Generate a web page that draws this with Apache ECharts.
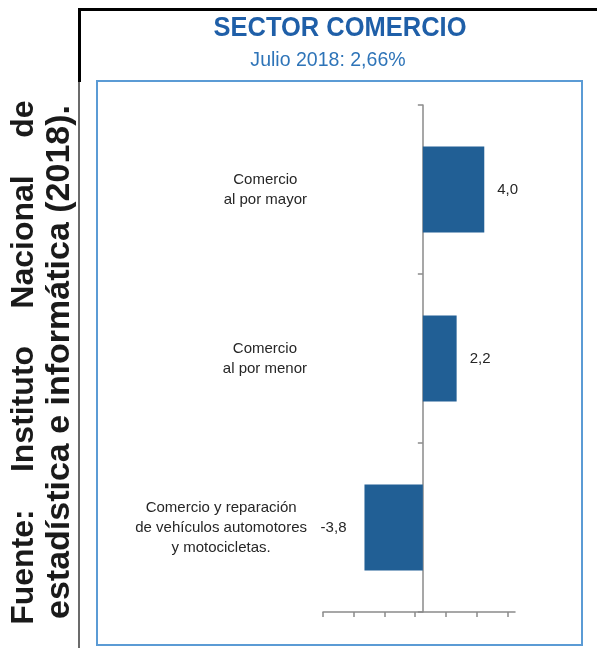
<!DOCTYPE html>
<html>
<head>
<meta charset="utf-8">
<script src="https://cdn.jsdelivr.net/npm/echarts@6/dist/echarts.min.js"></script>
<style>
  html, body { margin: 0; padding: 0; background: #ffffff; }
  #chart { width: 597px; height: 648px; }
</style>
</head>
<body>
<div id="chart"></div>
<script>
// Sector comercio: variación por subsector, julio 2018
const categories = [
  'Comercio\nal por mayor',
  'Comercio\nal por menor',
  'Comercio y reparación\nde vehículos automotores\ny motocicletas.'
];
const values = [4.0, 2.2, -3.8];
const xTickValues = [-6.5, -4.5, -2.5, -0.5, 1.5, 3.5, 5.5];
const titleText = 'SECTOR COMERCIO';
const subtitleText = 'Julio 2018: 2,66%';
const sourceLine1 = ['Fuente:', 'Instituto', 'Nacional', 'de'];
const sourceLine2 = 'estadística e informática (2018).';

const SANS = '"Liberation Sans", Arial, Helvetica, sans-serif';
const BAR = '#215f95';
const TEXT = '#262626';

const fmt = v => v.toFixed(1).replace('.', ',');

const barData = values.map(v => ({
  value: v,
  label: {
    position: v >= 0 ? 'right' : 'left',
    distance: v >= 0 ? 13 : 18
  }
}));

// centres of the words of the first (justified) source line
const line1Centers = [567, 409, 242, 119];

const graphics = [
  // outer black frame (top and left)
  { type: 'rect', shape: { x: 78, y: 8, width: 519, height: 3 }, style: { fill: '#000' }, silent: true },
  { type: 'rect', shape: { x: 78, y: 8, width: 3, height: 74 }, style: { fill: '#000' }, silent: true },
  { type: 'rect', shape: { x: 78, y: 82, width: 2, height: 566 }, style: { fill: '#6b6b6b' }, silent: true },
  // inner plot frame
  { type: 'rect', shape: { x: 97, y: 81, width: 485, height: 564 },
    style: { fill: 'none', stroke: '#5b9bd5', lineWidth: 2 }, silent: true },
  // headings (condensed)
  { type: 'text', x: 340, y: 28, scaleX: 0.91, style: { text: titleText, fontFamily: SANS, fontWeight: 'bold',
      fontSize: 28, fill: '#1f5fa8', align: 'center', verticalAlign: 'middle' } },
  { type: 'text', x: 328, y: 60, scaleX: 0.93, style: { text: subtitleText, fontFamily: SANS,
      fontSize: 21, fill: '#2e74b8', align: 'center', verticalAlign: 'middle' } },
  // vertical source note
  { type: 'text', x: 60, y: 362, rotation: Math.PI / 2,
    style: { text: sourceLine2, fontFamily: SANS, fontWeight: 'bold', fontSize: 34, fill: '#1a1a1a',
      align: 'center', verticalAlign: 'middle' } }
];
sourceLine1.forEach((w, i) => {
  graphics.push({ type: 'text', x: 24, y: line1Centers[i], rotation: Math.PI / 2,
    style: { text: w, fontFamily: SANS, fontWeight: 'bold', fontSize: 32, fill: '#1a1a1a',
      align: 'center', verticalAlign: 'middle' } });
});

const chart = echarts.init(document.getElementById('chart'), null, { renderer: 'canvas' });
chart.setOption({
  animation: false,
  backgroundColor: '#ffffff',
  grid: { left: 323, right: 82, top: 105, bottom: 36, containLabel: false },
  xAxis: {
    type: 'value',
    min: -6.5,
    max: 6,
    splitLine: { show: false },
    axisLine: { show: true, lineStyle: { color: '#8a8a8a', width: 1.5 } },
    axisTick: { show: true, length: 5, customValues: xTickValues, lineStyle: { color: '#8a8a8a', width: 1.5 } },
    axisLabel: { show: false }
  },
  yAxis: {
    type: 'category',
    inverse: true,
    data: categories,
    axisLine: { show: true, onZero: true, lineStyle: { color: '#8a8a8a', width: 1.5 } },
    axisTick: { show: true, length: 5, alignWithLabel: false, lineStyle: { color: '#8a8a8a', width: 1.5 } },
    axisLabel: {
      margin: 16,
      formatter: v => v.split('\n').map(l => '{c|' + l + '}').join('\n'),
      rich: { c: { align: 'center', fontFamily: SANS, fontSize: 15, lineHeight: 20, color: TEXT } }
    }
  },
  series: [{
    type: 'bar',
    data: barData,
    barWidth: '51%',
    itemStyle: { color: BAR },
    label: {
      show: true,
      formatter: p => fmt(p.value),
      fontFamily: SANS,
      fontSize: 15,
      color: TEXT
    }
  }],
  graphic: graphics
});
</script>
</body>
</html>
